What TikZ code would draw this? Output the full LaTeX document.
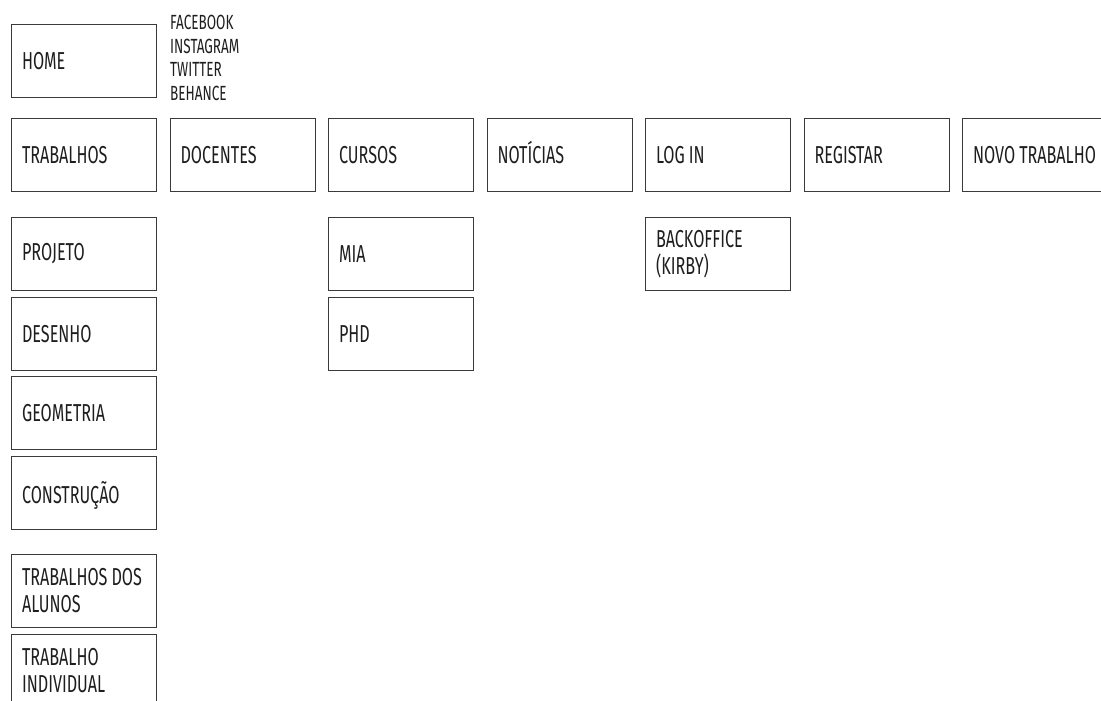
\documentclass[tikz,border=0pt]{standalone}
\usepackage{fontspec}
\setmainfont{Fira Sans}[FakeStretch=0.66]
\newcommand\wsp{\hspace{4pt}}
\definecolor{linec}{HTML}{3A3A3A}
\definecolor{textc}{HTML}{1E1E1E}
\begin{document}
\begin{tikzpicture}[x=1pt,y=-1pt,
  pagebox/.style={draw=linec, line width=1.1pt, rectangle, anchor=north west,
    minimum width=145pt, minimum height=73pt, inner xsep=10.5pt, inner ysep=0pt,
    text width=124pt, align=left, text=textc,
    font=\fontsize{24.5}{27}\selectfont},
  social/.style={anchor=base west, inner sep=0pt, text=textc,
    font=\fontsize{20.5}{23}\selectfont}]
\useasboundingbox (0,0) rectangle (1101,701);
\clip (0,0) rectangle (1101,701);
\node[pagebox] (home) at (11,24) {HOME};
\node[social] (fb) at (170,30) {FACEBOOK};
\node[social] (ig) at (170,53.3) {INSTAGRAM};
\node[social] (tw) at (170,76.6) {TWITTER};
\node[social] (be) at (170,100) {BEHANCE};
\node[pagebox] (trab) at (11,118) {TRABALHOS};
\node[pagebox] (doc) at (169.5,118) {DOCENTES};
\node[pagebox] (cur) at (328,118) {CURSOS};
\node[pagebox] (not) at (486.5,118) {NOT\smash{Í}CIAS};
\node[pagebox] (log) at (645,118) {LOG\wsp IN};
\node[pagebox] (reg) at (803.5,118) {REGISTAR};
\node[pagebox] (novo) at (962,118) {\mbox{NOVO\wsp TRABALHO}};
\node[pagebox] (proj) at (11,217) {PROJETO};
\node[pagebox] (des) at (11,297) {DESENHO};
\node[pagebox] (geo) at (11,376) {GEOMETRIA};
\node[pagebox] (cons) at (11,456) {CONSTRU\smash{Ç}ÃO};
\node[pagebox] (alunos) at (11,554) {\mbox{TRABALHOS\wsp DOS}\\ALUNOS};
\node[pagebox] (indiv) at (11,634) {TRABALHO\\INDIVIDUAL};
\node[pagebox] (mia) at (328,217) {MIA};
\node[pagebox] (phd) at (328,297) {PHD};
\node[pagebox] (back) at (645,217) {BACKOFFICE\\(KIRBY)};
\end{tikzpicture}
\end{document}
